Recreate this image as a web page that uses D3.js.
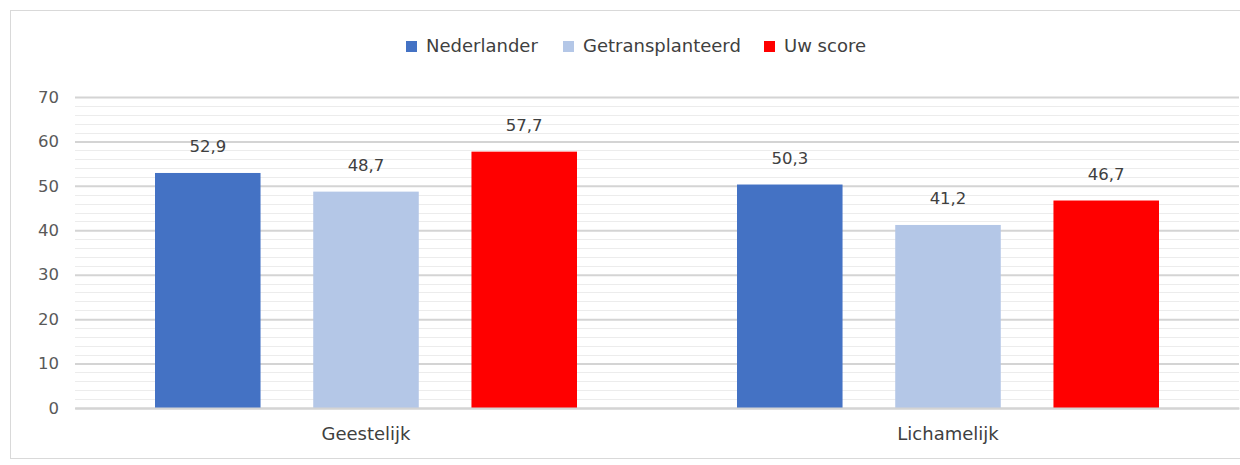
<!DOCTYPE html>
<html>
<head>
<meta charset="utf-8">
<script src="https://cdn.jsdelivr.net/npm/d3@7"></script>
<style>
  body { margin: 0; background: #fff; }
  svg { display: block; font-family: "DejaVu Sans", sans-serif; }
</style>
</head>
<body>
<svg id="drawing_region"></svg>
<script>
const categories = ['Geestelijk', 'Lichamelijk'];
const seriesNames = ['Nederlander', 'Getransplanteerd', 'Uw score'];
const nederlander = [52.9, 50.3];
const getransplanteerd = [48.7, 41.2];
const uwScore = [57.7, 46.7];
const yTicks = [0, 10, 20, 30, 40, 50, 60, 70];
const colors = ['#4472c4', '#b4c7e7', '#ff0000'];

const seriesValues = [nederlander, getransplanteerd, uwScore];

const config = {
    width: 1240,
    height: 465,
    margin: {top: 97, right: 1, bottom: 57, left: 75}
};

const numSize = 16.5;
const labelSize = 18;

const svg = d3.select('#drawing_region')
    .attr('width', config.width)
    .attr('height', config.height);

// chart border
svg.append('rect')
    .attr('x', 10.5).attr('y', 10.5)
    .attr('width', config.width + 20).attr('height', config.height - 17)
    .attr('fill', '#fff')
    .attr('stroke', '#d9d9d9');

const inner_width = config.width - config.margin.left - config.margin.right;
const inner_height = config.height - config.margin.top - config.margin.bottom;

const chart = svg.append('g')
    .attr('transform', `translate(${config.margin.left}, ${config.margin.top})`);

const yscale = d3.scaleLinear().domain([0, 70]).range([inner_height, 0]);

const xscale = d3.scaleBand()
    .domain(categories)
    .range([0, inner_width]);

const xinner = d3.scaleBand()
    .domain(seriesNames)
    .range([80, xscale.bandwidth() - 80])
    .paddingInner(0.333);

// minor grid
chart.append('g')
    .selectAll('line')
    .data(d3.range(0, 71, 2).filter(v => v % 10 !== 0))
    .join('line')
    .attr('x1', 0).attr('x2', inner_width)
    .attr('y1', d => Math.round(yscale(d)) + 0.5)
    .attr('y2', d => Math.round(yscale(d)) + 0.5)
    .attr('stroke', '#ececec')
    .attr('stroke-width', 1);

// major grid + y axis
const yaxis = d3.axisLeft(yscale)
    .tickValues(yTicks)
    .tickSize(-inner_width)
    .tickPadding(16);

const yaxis_group = chart.append('g').call(yaxis);
yaxis_group.select('.domain').remove();
yaxis_group.selectAll('.tick line')
    .attr('stroke', '#d4d4d4')
    .attr('stroke-width', 2);
yaxis_group.selectAll('.tick text')
    .attr('fill', '#595959')
    .attr('font-size', numSize)
    .attr('font-family', '"DejaVu Sans", sans-serif');

// bars
const groups = chart.selectAll('.cat')
    .data(categories)
    .join('g')
    .attr('transform', d => `translate(${xscale(d)}, 0)`);

groups.selectAll('rect')
    .data((c, i) => seriesNames.map((s, j) => ({s, v: seriesValues[j][i], c: colors[j]})))
    .join('rect')
    .attr('x', d => xinner(d.s))
    .attr('width', xinner.bandwidth())
    .attr('y', d => yscale(d.v))
    .attr('height', d => inner_height - yscale(d.v))
    .attr('fill', d => d.c);

groups.selectAll('.val')
    .data((c, i) => seriesNames.map((s, j) => ({s, v: seriesValues[j][i]})))
    .join('text')
    .attr('x', d => xinner(d.s) + xinner.bandwidth() / 2)
    .attr('y', d => yscale(d.v) - 21)
    .attr('text-anchor', 'middle')
    .attr('fill', '#404040')
    .attr('font-size', numSize)
    .text(d => d3.format('.1f')(d.v).replace('.', ','));

// x axis labels
const xaxis = d3.axisBottom(xscale).tickSize(0).tickPadding(19);
const xaxis_group = chart.append('g')
    .attr('transform', `translate(0, ${inner_height})`)
    .call(xaxis);
xaxis_group.select('.domain')
    .attr('stroke', '#d4d4d4')
    .attr('stroke-width', 2);
xaxis_group.selectAll('.tick text')
    .attr('fill', '#404040')
    .attr('font-size', labelSize)
    .attr('font-family', '"DejaVu Sans", sans-serif');

// legend
const legendX = [406, 563, 764];
const legend = svg.append('g').attr('transform', 'translate(0, 46)');
const items = legend.selectAll('g')
    .data(seriesNames)
    .join('g')
    .attr('transform', (d, i) => `translate(${legendX[i]}, 0)`);
items.append('rect')
    .attr('x', 0).attr('y', -5)
    .attr('width', 11).attr('height', 11)
    .attr('fill', (d, i) => colors[i]);
items.append('text')
    .attr('x', 20).attr('y', 6)
    .attr('fill', '#404040')
    .attr('font-size', labelSize)
    .text(d => d);
</script>
</body>
</html>
